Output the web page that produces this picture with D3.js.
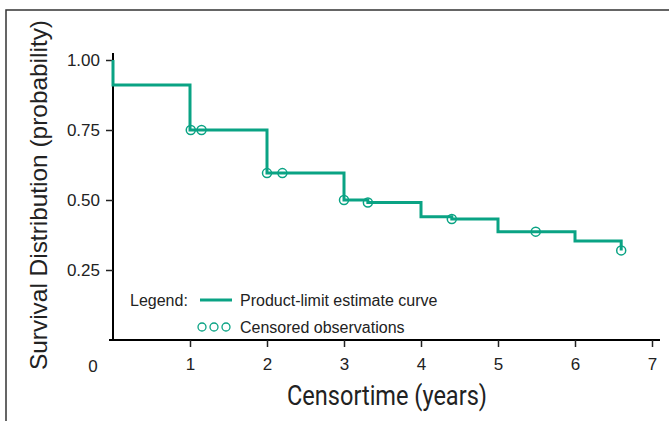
<!DOCTYPE html>
<html>
<head>
<meta charset="utf-8">
<script src="https://cdn.jsdelivr.net/npm/d3@7"></script>
<style>
  html, body { margin: 0; padding: 0; background: #fff; }
  svg { display: block; font-family: "Liberation Sans", Arial, sans-serif; }
</style>
</head>
<body>
<div id="chart"></div>
<script>
// step curve: time (years) and survival probability after each step
const stepTimes = [0, 0, 1, 2, 3, 3.31, 4, 4.4, 5, 6, 6.6]
const survival = [1.0, 0.911, 0.75, 0.596, 0.5, 0.491, 0.44, 0.432, 0.387, 0.354, 0.32]
// censored observations
const censorTimes = [1.01, 1.15, 2.0, 2.2, 3.0, 3.31, 4.4, 5.49, 6.6]
const censorValues = [0.75, 0.75, 0.596, 0.596, 0.5, 0.491, 0.432, 0.387, 0.32]
const xTicks = [1, 2, 3, 4, 5, 6, 7]
const yTicks = [0.25, 0.5, 0.75, 1.0]

const width = 669
const height = 421
const teal = "#0aa384"

const svg = d3.select("#chart").append("svg")
  .attr("width", width)
  .attr("height", height)

// outer frame (top + left only)
svg.append("path")
  .attr("d", "M6,421V10H669")
  .attr("fill", "none")
  .attr("stroke", "#333")
  .attr("stroke-width", 1.5)

const x = d3.scaleLinear().domain([0, 7]).range([113, 652])
const y = d3.scaleLinear().domain([0, 1]).range([340, 60])

// axes
const xAxis = svg.append("g")
  .attr("transform", "translate(0,340)")
  .call(d3.axisBottom(x).tickValues(xTicks).tickSize(7).tickSizeOuter(0).tickFormat(d3.format("d")))
xAxis.select(".domain").attr("d", "M109,0H660").attr("stroke-width", 2)

const yAxis = svg.append("g")
  .attr("transform", "translate(113,0)")
  .call(d3.axisLeft(y).tickValues(yTicks).tickSize(7).tickSizeOuter(0).tickFormat(d3.format(".2f")))
yAxis.select(".domain").attr("d", "M0,53V341").attr("stroke-width", 2)

svg.selectAll(".tick line").attr("stroke", "#222").attr("stroke-width", 1.5)
svg.selectAll(".tick text")
  .attr("font-family", "'Liberation Sans', Arial, sans-serif")
  .attr("font-size", 17)
  .attr("fill", "#222")
xAxis.selectAll(".tick text").attr("dy", "1.2em")
yAxis.selectAll(".tick text").attr("x", -13)

// origin label
svg.append("text")
  .attr("x", x(0) - 20)
  .attr("y", 372)
  .attr("text-anchor", "middle")
  .attr("font-size", 17)
  .attr("fill", "#222")
  .text("0")

// axis titles
svg.append("text")
  .attr("x", 387)
  .attr("y", 405)
  .attr("text-anchor", "middle")
  .attr("font-family", "Roboto, sans-serif")
  .attr("font-size", 27)
  .attr("textLength", 200)
  .attr("lengthAdjust", "spacingAndGlyphs")
  .attr("fill", "#222")
  .text("Censortime (years)")

svg.append("text")
  .attr("transform", "translate(47,195) rotate(-90)")
  .attr("text-anchor", "middle")
  .attr("font-size", 24)
  .attr("textLength", 350)
  .attr("lengthAdjust", "spacingAndGlyphs")
  .attr("fill", "#222")
  .text("Survival Distribution (probability)")

// product-limit curve
const pts = stepTimes.map((t, i) => [t, survival[i]])
const line = d3.line()
  .x(d => x(d[0]))
  .y(d => y(d[1]))
  .curve(d3.curveStepAfter)

svg.append("path")
  .datum(pts)
  .attr("d", line)
  .attr("fill", "none")
  .attr("stroke", teal)
  .attr("stroke-width", 3)

svg.append("g")
  .selectAll("circle")
  .data(censorTimes)
  .join("circle")
  .attr("cx", d => x(d))
  .attr("cy", (d, i) => y(censorValues[i]))
  .attr("r", 4.5)
  .attr("fill", "none")
  .attr("stroke", teal)
  .attr("stroke-width", 1.5)

// legend
const lg = svg.append("g").attr("font-size", 16).attr("fill", "#222")
lg.append("text").attr("x", 130).attr("y", 306).text("Legend:")
lg.append("line")
  .attr("x1", 200).attr("x2", 232).attr("y1", 300).attr("y2", 300)
  .attr("stroke", teal).attr("stroke-width", 3)
lg.append("text").attr("x", 240).attr("y", 306).text("Product-limit estimate curve")
lg.selectAll("circle")
  .data([202, 214, 226])
  .join("circle")
  .attr("cx", d => d).attr("cy", 327).attr("r", 4)
  .attr("fill", "none").attr("stroke", teal).attr("stroke-width", 1.3)
lg.append("text").attr("x", 240).attr("y", 333).text("Censored observations")
</script>
</body>
</html>
